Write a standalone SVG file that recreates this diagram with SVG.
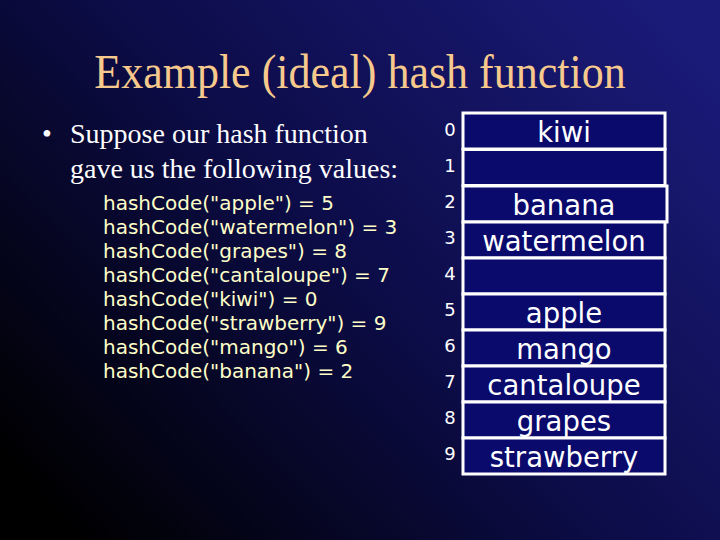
<svg xmlns="http://www.w3.org/2000/svg" width="720" height="540" viewBox="0 0 720 540">
<defs>
<linearGradient id="bg" x1="0" y1="0.85" x2="1" y2="0.15">
<stop offset="0" stop-color="#000000"/>
<stop offset="0.5" stop-color="#0c0c48"/>
<stop offset="1" stop-color="#1a1a78"/>
</linearGradient>
<style>
.title{font-family:"Liberation Serif",serif;font-size:44px;fill:#f7c98c;text-anchor:middle}
.bul{font-family:"Liberation Serif",serif;font-size:28px;fill:#ffffff}
.code{font-family:"DejaVu Sans",Verdana,sans-serif;font-size:20px;fill:#ffffc8}
.idx{font-family:"DejaVu Sans",Verdana,sans-serif;font-size:18px;fill:#ffffff;text-anchor:middle}
.cell rect{fill:#0a0a6c;stroke:#ffffff;stroke-width:3}
.cell text{font-family:"DejaVu Sans",Verdana,sans-serif;font-size:27.5px;fill:#ffffff;text-anchor:middle}
</style>
</defs>
<rect width="720" height="540" fill="url(#bg)"/>
<text class="title" transform="translate(360,88) scale(1,1.1)">Example (ideal) hash function</text>
<g id="bullet">
<text class="bul" x="42" y="143">•</text>
<text class="bul" x="70" y="143">Suppose our hash function</text>
<text class="bul" x="70" y="178">gave us the following values:</text>
</g>
<g id="code">
<text class="code" x="103" y="210">hashCode("apple") = 5</text>
<text class="code" x="103" y="234">hashCode("watermelon") = 3</text>
<text class="code" x="103" y="258">hashCode("grapes") = 8</text>
<text class="code" x="103" y="282">hashCode("cantaloupe") = 7</text>
<text class="code" x="103" y="306">hashCode("kiwi") = 0</text>
<text class="code" x="103" y="330">hashCode("strawberry") = 9</text>
<text class="code" x="103" y="354">hashCode("mango") = 6</text>
<text class="code" x="103" y="378">hashCode("banana") = 2</text>
</g>
<g id="indices">
<text class="idx" x="450" y="136">0</text>
<text class="idx" x="450" y="172">1</text>
<text class="idx" x="450" y="208">2</text>
<text class="idx" x="450" y="244">3</text>
<text class="idx" x="450" y="280">4</text>
<text class="idx" x="450" y="316">5</text>
<text class="idx" x="450" y="352">6</text>
<text class="idx" x="450" y="388">7</text>
<text class="idx" x="450" y="424">8</text>
<text class="idx" x="450" y="460">9</text>
</g>
<g id="cell0" class="cell"><rect x="463" y="113" width="202" height="36"/><text x="564" y="142">kiwi</text></g>
<g id="cell1" class="cell"><rect x="463" y="149.5" width="202" height="36"/></g>
<g id="cell2" class="cell"><rect x="463" y="186" width="204" height="36"/><text x="564" y="215">banana</text></g>
<g id="cell3" class="cell"><rect x="463" y="222" width="202" height="36"/><text x="564" y="251">watermelon</text></g>
<g id="cell4" class="cell"><rect x="463" y="258" width="202" height="36"/></g>
<g id="cell5" class="cell"><rect x="463" y="294" width="202" height="36"/><text x="564" y="323">apple</text></g>
<g id="cell6" class="cell"><rect x="463" y="330" width="202" height="36"/><text x="564" y="359">mango</text></g>
<g id="cell7" class="cell"><rect x="463" y="366" width="202" height="36"/><text x="564" y="395">cantaloupe</text></g>
<g id="cell8" class="cell"><rect x="463" y="402" width="202" height="36"/><text x="564" y="431">grapes</text></g>
<g id="cell9" class="cell"><rect x="463" y="438" width="202" height="36"/><text x="564" y="467">strawberry</text></g>
</svg>
